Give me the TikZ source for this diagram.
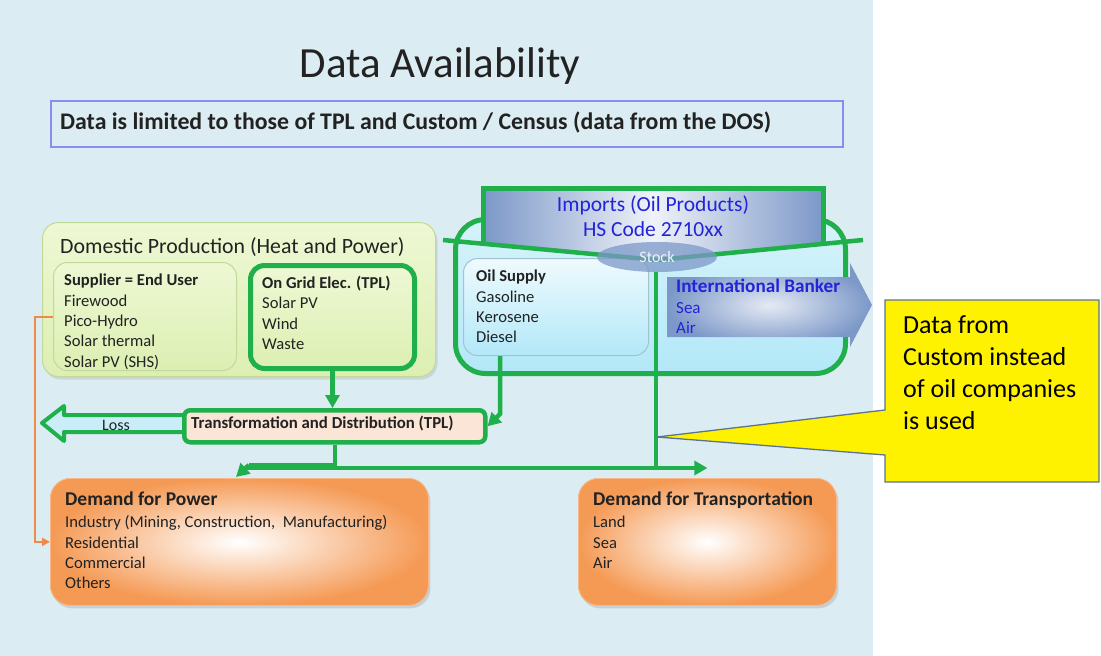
\documentclass[tikz,border=0pt]{standalone}
\usepackage{fontspec}
\setmainfont{Carlito}
\usetikzlibrary{arrows.meta,shadows,shapes.geometric,calc}
\definecolor{bg}{HTML}{DBECF2}
\definecolor{gr}{HTML}{1FAF4B}
\definecolor{txt}{HTML}{222222}
\definecolor{blu}{HTML}{2323D8}
\definecolor{orng}{HTML}{F59A55}
\definecolor{orline}{HTML}{F08A4B}
\definecolor{steel}{HTML}{7C98C8}
\definecolor{subb}{HTML}{8C8CF0}
\definecolor{domb}{HTML}{C3D99A}
\definecolor{domtop}{HTML}{EEF8D4}
\definecolor{dombot}{HTML}{DCEFB2}
\definecolor{cyantop}{HTML}{D6F3FB}
\definecolor{cyanbot}{HTML}{B3E8F8}
\definecolor{oilb}{HTML}{A3C3D3}
\definecolor{peach}{HTML}{FBE5D6}
\definecolor{lossf}{HTML}{CBEDF9}
\definecolor{callb}{HTML}{5B7493}
\tikzset{
  box/.style={anchor=north west, inner sep=0pt},
  domst/.style={box, draw=domb, line width=1pt, top color=domtop, bottom color=dombot, rounded corners=16pt},
  gbox/.style={box, draw=gr, line width=5pt, rounded corners=14pt},
  gline/.style={draw=gr, line width=4.5pt},
  garrow/.style={gline, -{Triangle[length=13pt,width=14pt]}},
  demst/.style={box, rounded corners=20pt, inner color=white, outer color=orng, draw=orng!70, line width=0.8pt,
     drop shadow={shadow xshift=2pt, shadow yshift=-3pt, opacity=0.25}},
  txtblk/.style={anchor=north west, align=left, inner sep=0pt, text=txt},
}
\begin{document}
\begin{tikzpicture}[x=1pt,y=-1pt]
\fill[bg] (0,0) rectangle (873,656);
\path[use as bounding box] (0,0) rectangle (1101,656);

% title and subtitle
\node[anchor=base, inner sep=0pt, text=txt, font=\fontsize{43}{48}\selectfont] (title) at (440,77) {Data Availability};
\node[box, draw=subb, line width=1.5pt, minimum width=792pt, minimum height=46pt] (sub) at (50,100) {};
\node[anchor=west, inner sep=0pt, text=txt, font=\bfseries\fontsize{23.8}{26}\selectfont] (subt) at (60,122) {Data is limited to those of TPL and Custom / Census (data from the DOS)};

% domestic production
\node[domst, minimum width=393pt, minimum height=154pt, drop shadow={shadow xshift=2pt, shadow yshift=-3pt, opacity=0.2}] (dom) at (42,222) {};
\node[anchor=base west, inner sep=0pt, text=txt, font=\fontsize{21.8}{24}\selectfont] (domt) at (60,253) {Domestic Production (Heat and Power)};
\node[domst, rounded corners=14pt, minimum width=183pt, minimum height=108pt] (sup) at (53,262) {};
\node[gbox, top color=domtop, bottom color=dombot, minimum width=164pt, minimum height=103pt] (grid) at (248,263) {};
\node[txtblk, font=\fontsize{16.6}{20.3}\selectfont] (supt) at (64,274) {\textbf{Supplier = End User}\\Firewood\\Pico-Hydro\\Solar thermal\\Solar PV (SHS)};
\node[txtblk, font=\fontsize{16.6}{20.3}\selectfont] (gridt) at (262,276) {\textbf{On Grid Elec. (TPL)}\\Solar PV\\Wind\\Waste};

% imports region
\node[box, draw=gr, line width=5pt, rounded corners=30pt, top color=cyantop, bottom color=cyanbot, minimum width=390pt, minimum height=154pt] (bigimp) at (453,217) {};
\node[box, draw=oilb, line width=1pt, rounded corners=14pt, top color=white!60!cyantop, bottom color=cyanbot, minimum width=185pt, minimum height=97pt] (oil) at (463,258) {};
\node[txtblk, font=\fontsize{16.6}{20.3}\selectfont] (oilt) at (476,270) {\textbf{Oil Supply}\\Gasoline\\Kerosene\\Diesel};

\path[inner color=white!80!steel, outer color=steel] (667,277) -- (850,277) -- (850,263) -- (872,305) -- (850,347) -- (850,337) -- (667,337) -- cycle;
\node[txtblk, text=blu, font=\fontsize{17}{20.5}\selectfont] (bankt) at (676,279) {{\bfseries\fontsize{19.2}{20}\selectfont International Banker}\\Sea\\Air};

\path[left color=steel, right color=steel, middle color=white!88!steel] (483,188) -- (823,188) -- (823,244) -- (657,260) -- (483,244) -- cycle;
\draw[draw=gr, line width=5pt] (483,246) -- (483,188) -- (823,188) -- (823,246);
\draw[gline] (443,240) -- (657,260) -- (863,240);
\node[align=center, inner sep=0pt, text=blu, font=\fontsize{21.5}{25}\selectfont] (impt) at (653,216) {Imports (Oil Products)\\HS Code 2710xx};

% junction coordinates
\coordinate (jr) at (656,468);
\coordinate (jl) at (246,468);
\coordinate (jm) at (249,465);
\coordinate (dpin) at (236,477);

\node[ellipse, fill=steel, fill opacity=0.75, text=white!90!steel, text opacity=1, minimum width=120pt, minimum height=30pt, inner sep=0pt, font=\fontsize{16}{18}\selectfont] (stock) at (657,257) {Stock};
\draw[gline] (stock.south) ++(-1,0) -- (jr);

% transformation and loss
\draw[draw=gr, line width=4pt, line join=round, fill=lossf] (42,423) -- (64,406) -- (64,415) -- (184,415) -- (184,432) -- (64,432) -- (64,441) -- cycle;
\node[inner sep=0pt, text=txt, font=\fontsize{16}{18}\selectfont] (losst) at (116,425) {Loss};
\node[box, draw=gr, line width=4.5pt, rounded corners=6pt, fill=peach, minimum width=301pt, minimum height=32pt] (trans) at (182,408) {};
\node[anchor=west, inner sep=0pt, text=txt, font=\bfseries\fontsize{16.8}{18}\selectfont] (transt) at (191,424) {Transformation and Distribution (TPL)};

\draw[garrow] (grid.south) -- (grid.south |- trans.north);
\draw[garrow] ([xshift=37pt]oil.south west) -- ++(0,58) -- (trans.east);

% demand boxes
\node[demst, minimum width=378pt, minimum height=127pt] (dpow) at (50,478) {};
\node[demst, minimum width=258pt, minimum height=127pt] (dtrans) at (578,478) {};
\node[txtblk, font=\fontsize{16.6}{20.4}\selectfont] (dpowt) at (65,492) {{\bfseries\fontsize{19.5}{20}\selectfont Demand for Power}\\[1.5pt]Industry (Mining, Construction, \ Manufacturing)\\Residential\\Commercial\\Others};
\node[txtblk, font=\fontsize{16.6}{20.4}\selectfont] (dtranst) at (593,492) {{\bfseries\fontsize{19.5}{20}\selectfont Demand for Transportation}\\[1.5pt]Land\\Sea\\Air};

% distribution lines
\draw[gline] (trans.south) |- (jm);
\draw[gline] (jr) -- (jl);
\draw[garrow] (jm) -- (dpin);
\draw[garrow] (jr) -- (jr -| dtrans.north);
\draw[draw=orline, line width=2pt, -{Triangle[length=8pt,width=8pt]}] (sup.west) -- ++(-18,0) |- (dpow.west);

% callout
\draw[fill=yellow, draw=callb, line width=1.3pt, line join=miter] (885,300) -- (1099,300) -- (1099,482) -- (885,482) -- (885,455) -- (657,437) -- (885,410) -- cycle;
\node[txtblk, text=black, font=\fontsize{26}{32}\selectfont] (callt) at (903,315) {Data from\\Custom instead\\of oil companies\\is used};
\end{tikzpicture}
\end{document}
